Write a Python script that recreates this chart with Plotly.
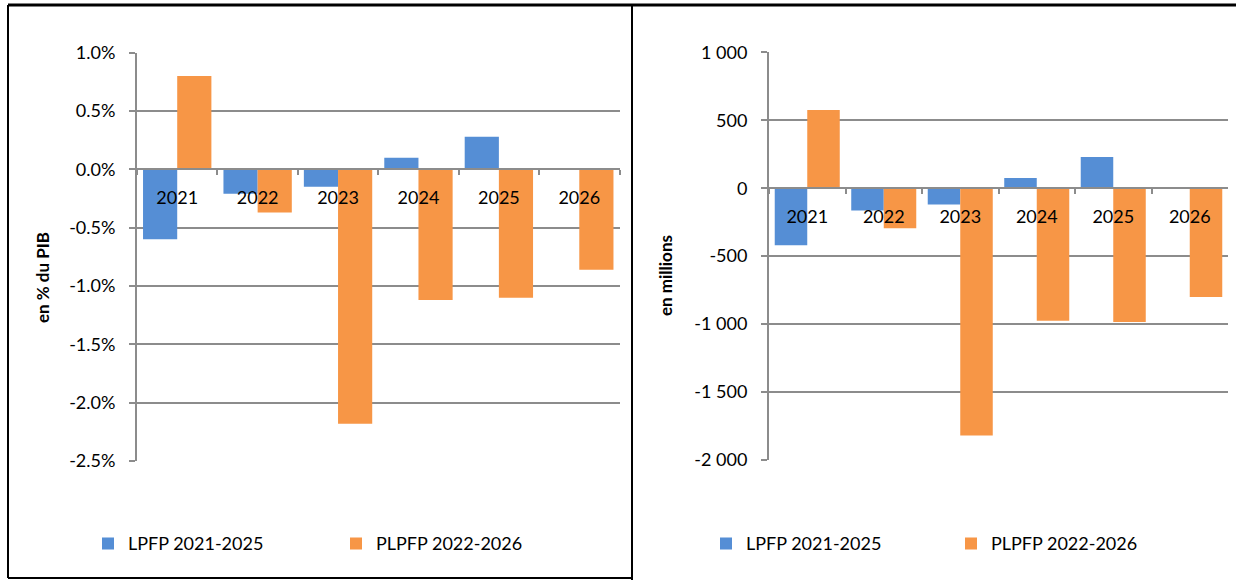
import plotly.graph_objects as go

# ---------------- data ----------------
years = ["2021", "2022", "2023", "2024", "2025", "2026"]
series_names = ["LPFP 2021-2025", "PLPFP 2022-2026"]

# left panel: en % du PIB
lpfp_pct = [-0.60, -0.21, -0.15, 0.10, 0.28, None]
plpfp_pct = [0.80, -0.37, -2.18, -1.12, -1.10, -0.86]
pct_tickvals = [-2.5, -2.0, -1.5, -1.0, -0.5, 0.0, 0.5, 1.0]
pct_ticktext = ["-2.5%", "-2.0%", "-1.5%", "-1.0%", "-0.5%", "0.0%", "0.5%", "1.0%"]

# right panel: en millions
lpfp_mio = [-420, -165, -120, 75, 230, None]
plpfp_mio = [575, -295, -1820, -975, -985, -800]
mio_tickvals = [-2000, -1500, -1000, -500, 0, 500, 1000]
mio_ticktext = ["-2 000", "-1 500", "-1 000", "-500", "0", "500", "1 000"]

# ---------------- style ----------------
W, H = 1236, 580
BLUE = "#558ED5"
ORANGE = "#F79646"
GRID = "#8C8C8C"
FONT = "Lato"


def px_x(v):
    return v / W


def px_y(v):
    return 1 - v / H


fig = go.Figure()

fig.add_trace(go.Bar(x=years, y=lpfp_pct, name=series_names[0], marker_color=BLUE,
                     marker_line_width=0, xaxis="x", yaxis="y", legend="legend"))
fig.add_trace(go.Bar(x=years, y=plpfp_pct, name=series_names[1], marker_color=ORANGE,
                     marker_line_width=0, xaxis="x", yaxis="y", legend="legend"))
fig.add_trace(go.Bar(x=years, y=lpfp_mio, name=series_names[0], marker_color=BLUE,
                     marker_line_width=0, xaxis="x2", yaxis="y2", legend="legend2"))
fig.add_trace(go.Bar(x=years, y=plpfp_mio, name=series_names[1], marker_color=ORANGE,
                     marker_line_width=0, xaxis="x2", yaxis="y2", legend="legend2"))

# plot areas (pixels)
L_x0, L_x1, L_top, L_bot = 137, 619.5, 52.7, 461
R_x0, R_x1, R_top, R_bot = 769, 1228, 52.3, 460
L_range = [-2.5, 1.0]
R_range = [-2000, 1000]

L_dom_y = [px_y(L_bot), px_y(L_top)]
R_dom_y = [px_y(R_bot), px_y(R_top)]
L_zero = L_dom_y[0] + (L_dom_y[1] - L_dom_y[0]) * (0 - L_range[0]) / (L_range[1] - L_range[0])
R_zero = R_dom_y[0] + (R_dom_y[1] - R_dom_y[0]) * (0 - R_range[0]) / (R_range[1] - R_range[0])

tickfont = dict(family=FONT, size=18, color="black")

xcommon = dict(type="category", showgrid=False, showline=True, linecolor=GRID, linewidth=2,
               ticks="outside", tickson="boundaries", ticklen=5, tickwidth=2, tickcolor=GRID,
               tickfont=tickfont, anchor="free", automargin=False, fixedrange=True,
               range=[-0.5, 5.5], ticklabelstandoff=12)
ycommon = dict(showgrid=True, gridcolor=GRID, gridwidth=2, showline=True, linecolor=GRID,
               linewidth=2, ticks="outside", ticklen=6, tickwidth=2, tickcolor=GRID,
               zeroline=False, tickfont=tickfont, automargin=False, fixedrange=True,
               ticklabelstandoff=10)

legend_common = dict(orientation="h", xanchor="left", yanchor="middle",
                     entrywidthmode="pixels", font=dict(family=FONT, size=18, color="black"),
                     bgcolor="rgba(0,0,0,0)", borderwidth=0,
                     itemclick=False, itemdoubleclick=False)

fig.update_layout(
    width=W, height=H,
    autosize=False,
    margin=dict(l=0, r=0, t=0, b=0, autoexpand=False),
    paper_bgcolor="white", plot_bgcolor="white",
    barmode="group", bargap=0.15, bargroupgap=0,
    font=dict(family=FONT, size=18, color="black"),
    xaxis=dict(domain=[px_x(L_x0), px_x(L_x1)], position=L_zero, **xcommon),
    yaxis=dict(domain=L_dom_y, range=L_range, tickvals=pct_tickvals, ticktext=pct_ticktext,
               anchor="x", **ycommon),
    xaxis2=dict(domain=[px_x(R_x0), px_x(R_x1)], position=R_zero, **xcommon),
    yaxis2=dict(domain=R_dom_y, range=R_range, tickvals=mio_tickvals, ticktext=mio_ticktext,
                anchor="x2", **ycommon),
    legend=dict(x=px_x(88), y=px_y(543.7), entrywidth=203, **legend_common),
    legend2=dict(x=px_x(706), y=px_y(543.7), entrywidth=200, **legend_common),
    showlegend=True,
    annotations=[
        dict(text="<b>en % du PIB</b>", x=px_x(42.5), y=px_y(277.5), xref="paper", yref="paper",
             textangle=-90, showarrow=False, font=dict(family=FONT, size=17, color="black"),
             xanchor="center", yanchor="middle"),
        dict(text="<b>en millions</b>", x=px_x(665), y=px_y(276), xref="paper", yref="paper",
             textangle=-90, showarrow=False, font=dict(family=FONT, size=17, color="black"),
             xanchor="center", yanchor="middle"),
    ],
    shapes=[
        dict(type="line", xref="paper", yref="paper", x0=px_x(8), x1=1, y0=px_y(5), y1=px_y(5),
             line=dict(color="black", width=3)),
        dict(type="line", xref="paper", yref="paper", x0=px_x(8), x1=px_x(8), y0=px_y(5), y1=px_y(578),
             line=dict(color="black", width=2)),
        dict(type="line", xref="paper", yref="paper", x0=px_x(8), x1=px_x(632), y0=px_y(578), y1=px_y(578),
             line=dict(color="black", width=2)),
        dict(type="line", xref="paper", yref="paper", x0=px_x(632), x1=px_x(632), y0=px_y(5), y1=0,
             line=dict(color="black", width=2)),
    ],
)

fig.write_html(
    "out.html",
    config={"displayModeBar": False},
    post_script="document.body.style.margin='0';document.body.style.overflow='hidden';",
)
